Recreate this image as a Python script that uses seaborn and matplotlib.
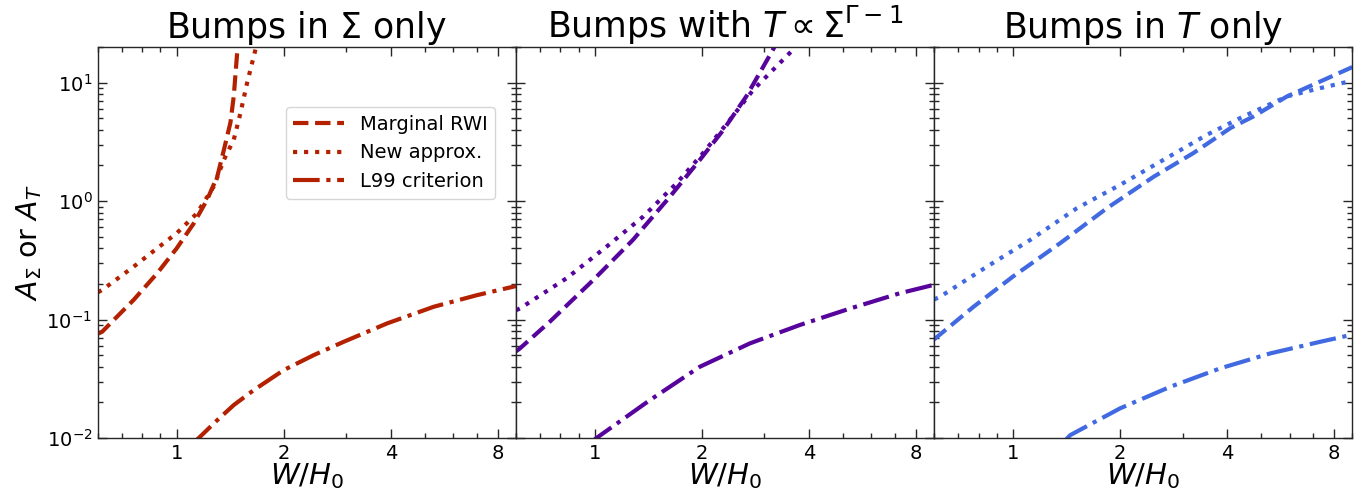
import matplotlib
matplotlib.use("Agg")
import matplotlib.pyplot as plt
import matplotlib.ticker as mticker
import seaborn as sns
import numpy as np
import pandas as pd

# values (x = W/H0, y = amplitude)
# panel 1: bumps in Sigma only
sig_rwi_x = [0.60, 0.617, 0.757, 0.881, 1.0, 1.117, 1.218, 1.30, 1.357, 1.416, 1.447, 1.479, 1.49]
sig_rwi_y = [0.076, 0.079, 0.147, 0.246, 0.40, 0.65, 1.03, 1.61, 2.7, 4.6, 7.7, 17.8, 24.0]
sig_new_x = [0.60, 0.617, 0.757, 0.881, 1.0, 1.14, 1.271, 1.357, 1.447, 1.51, 1.578, 1.665, 1.69]
sig_new_y = [0.17, 0.178, 0.28, 0.40, 0.536, 0.79, 1.33, 2.23, 3.3, 5.5, 10.0, 19.0, 23.0]
sig_l99_x = [1.10, 1.153, 1.30, 1.447, 1.647, 2.0, 2.43, 2.95, 3.91, 5.29, 7.0, 8.87, 9.0]
sig_l99_y = [0.0088, 0.0100, 0.01416, 0.019, 0.0254, 0.0375, 0.0502, 0.065, 0.093, 0.1285, 0.161, 0.19, 0.192]

# panel 2: bumps with T ~ Sigma^(Gamma-1)
mix_rwi_x = [0.60, 0.615, 0.747, 0.99, 1.28, 1.626, 1.974, 2.30, 2.67, 3.17, 3.25]
mix_rwi_y = [0.054, 0.057, 0.096, 0.216, 0.471, 1.09, 2.23, 4.0, 7.7, 19.0, 22.0]
mix_new_x = [0.60, 0.615, 0.832, 1.079, 1.368, 1.70, 2.017, 2.40, 2.79, 3.61, 3.70]
mix_new_y = [0.12, 0.124, 0.223, 0.413, 0.741, 1.42, 2.55, 4.87, 8.7, 19.0, 22.0]
mix_l99_x = [0.97, 1.01, 1.428, 1.974, 2.73, 3.77, 5.22, 7.21, 8.95, 9.0]
mix_l99_y = [0.009, 0.0100, 0.0209, 0.040, 0.063, 0.090, 0.124, 0.167, 0.196, 0.197]

# panel 3: bumps in T only
tem_rwi_x = [0.60, 0.605, 0.775, 1.0, 1.358, 1.839, 2.49, 3.22, 4.09, 4.75, 5.90, 8.89, 9.0]
tem_rwi_y = [0.068, 0.0695, 0.1285, 0.231, 0.442, 0.873, 1.61, 2.55, 4.14, 5.19, 7.66, 13.3, 13.6]
tem_new_x = [0.60, 0.624, 0.845, 1.119, 1.514, 2.0, 2.65, 3.51, 4.45, 5.90, 7.32, 8.89, 9.0]
tem_new_y = [0.148, 0.156, 0.28, 0.471, 0.873, 1.37, 2.23, 3.63, 5.19, 7.66, 9.0, 10.3, 10.4]
tem_l99_x = [1.40, 1.45, 2.0, 2.77, 3.83, 5.30, 7.32, 8.89, 9.0]
tem_l99_y = [0.0095, 0.0106, 0.0178, 0.0271, 0.0388, 0.0519, 0.065, 0.074, 0.0745]

titles = [r"Bumps in $\Sigma$ only",
          r"Bumps with $T\propto\Sigma^{\Gamma-1}$",
          r"Bumps in $T$ only"]
colours = ["#b32100", "#56049c", "#4169e1"]
labels = ["Marginal RWI", "New approx.", "L99 criterion"]
styles = ["--", ":", "-."]

panels = [
    [(sig_rwi_x, sig_rwi_y), (sig_new_x, sig_new_y), (sig_l99_x, sig_l99_y)],
    [(mix_rwi_x, mix_rwi_y), (mix_new_x, mix_new_y), (mix_l99_x, mix_l99_y)],
    [(tem_rwi_x, tem_rwi_y), (tem_new_x, tem_new_y), (tem_l99_x, tem_l99_y)],
]

sns.set_style("ticks", {"axes.edgecolor": "0.15", "text.color": "black",
                        "axes.labelcolor": "black", "xtick.color": "black",
                        "ytick.color": "black"})
plt.rcParams['font.family'] = ['DejaVu Sans']
plt.rcParams['mathtext.fontset'] = 'dejavusans'

fig, axes = plt.subplots(1, 3, figsize=(13.59, 4.95), dpi=100, sharey=True)
fig.subplots_adjust(left=0.072, right=0.995, top=0.905, bottom=0.115, wspace=0)

for i, ax in enumerate(axes):
    for j, (xs, ys) in enumerate(panels[i]):
        df = pd.DataFrame({"x": xs, "y": ys})
        sns.lineplot(data=df, x="x", y="y", ax=ax, color=colours[i],
                     linestyle=styles[j], linewidth=3, label=labels[j] if i == 0 else None,
                     sort=True, estimator=None)
    ax.set_xscale("log")
    ax.set_yscale("log")
    ax.set_xlim(0.6, 9.0)
    ax.set_ylim(1e-2, 20)
    ax.xaxis.set_major_locator(mticker.FixedLocator([1, 2, 4, 8]))
    ax.xaxis.set_major_formatter(mticker.FixedFormatter(["1", "2", "4", "8"]))
    ax.xaxis.set_minor_locator(mticker.LogLocator(base=10, subs=np.arange(2, 10), numticks=20))
    ax.xaxis.set_minor_formatter(mticker.NullFormatter())
    ax.tick_params(which="both", direction="in", top=True, right=True, labelsize=14,
                   color="0.15", pad=4)
    ax.tick_params(which="major", length=6.5, width=1)
    ax.tick_params(which="minor", length=3.6, width=1)
    for sp in ax.spines.values():
        sp.set_linewidth(1.0)
    ax.set_title(titles[i], fontsize=25, pad=6.5)
    ax.set_xlabel(r"$W/H_0$", fontsize=21, labelpad=-1)
    if i == 0:
        ax.set_ylabel(r"$A_\Sigma$ or $A_T$", fontsize=20.5, labelpad=2)
        ax.legend(loc="upper right", bbox_to_anchor=(0.95, 0.847), borderaxespad=0,
                  fontsize=14, handlelength=2.6, frameon=True)
    else:
        ax.set_ylabel("")
        if ax.get_legend() is not None:
            ax.get_legend().remove()

fig.savefig("out.png", dpi=100)
